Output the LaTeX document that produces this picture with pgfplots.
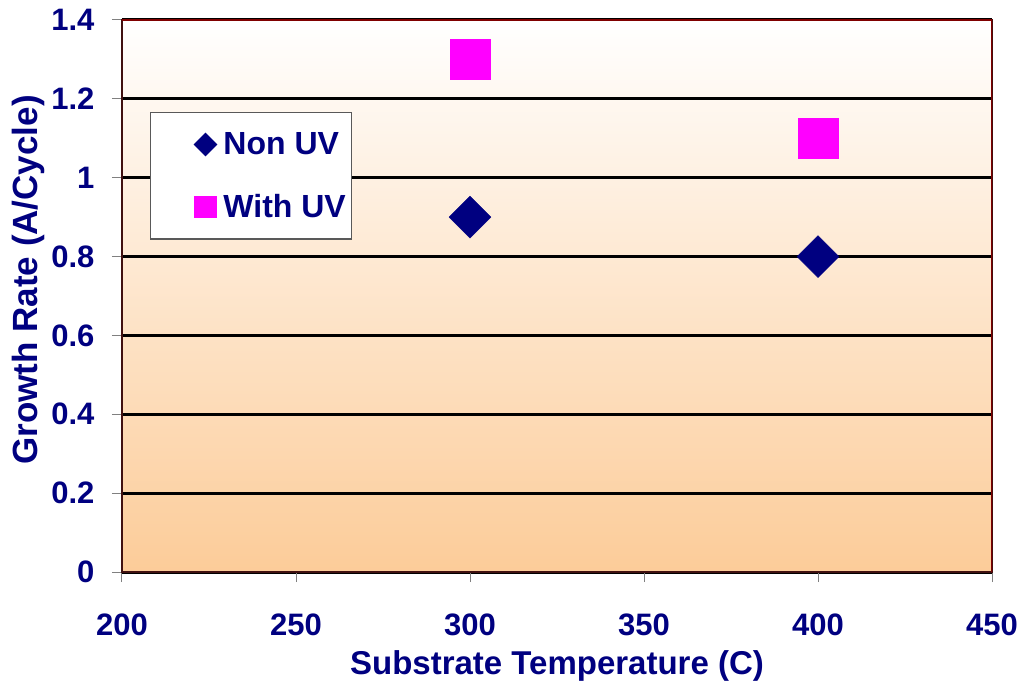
\documentclass[border=0pt]{standalone}
\usepackage{pgfplots}
\pgfplotsset{compat=1.18}
\usepackage{fontspec}
\setmainfont{Liberation Sans}
\definecolor{navy}{RGB}{0,0,128}
\definecolor{mag}{RGB}{255,0,255}
\definecolor{peach}{RGB}{252,204,153}
\definecolor{bordred}{RGB}{128,0,0}
\definecolor{bordbrown}{RGB}{64,16,16}
\pgfplotsset{
  legA/.style={legend image code/.code={\path[draw=none] (0pt,0pt) -- (67pt,0pt); \draw[##1, mark size=7.8pt] plot coordinates {(51pt,0pt)};}},
  legB/.style={legend image code/.code={\path[draw=none] (0pt,0pt) -- (67pt,0pt); \draw[##1, mark size=10.5pt] plot coordinates {(51pt,0pt)};}},
}
\begin{document}
\begin{tikzpicture}
\begin{axis}[
  scale only axis,
  width=870pt, height=552pt,
  xmin=200, xmax=450, ymin=0, ymax=1.4,
  xtick={200,250,...,450},
  ytick={0,0.2,...,1.4},
  yticklabels={0,0.2,0.4,0.6,0.8,1,1.2,1.4},
  /pgf/number format/assume math mode=true,
  tick label style={font=\fontsize{31}{36}\selectfont\bfseries, text=navy},
  xticklabel style={yshift=-28pt},
  yticklabel style={xshift=-14pt},
  tick align=outside,
  major tick length=10pt,
  tick style={gray, line width=1pt},
  xtick pos=bottom, ytick pos=left,
  axis line style={bordbrown, line width=1.5pt},
  ymajorgrids,
  major grid style={black, line width=3pt},
  axis background/.style={top color=white, bottom color=peach},
  xlabel={Substrate Temperature (C)},
  ylabel={Growth Rate (A/Cycle)},
  xlabel style={font=\fontsize{33}{38}\selectfont\bfseries, text=navy, yshift=-8pt},
  ylabel style={font=\fontsize{35}{40}\selectfont\bfseries, text=navy, at={(ticklabel cs:0.529)}},
  legend style={at={(rel axis cs:0.032,0.833)}, anchor=north west,
    draw=gray!70!black, line width=1.2pt, fill=white,
    font=\fontsize{32}{36}\selectfont\bfseries, text=navy,
    inner xsep=4pt, inner ysep=18pt, row sep=34pt,
    /tikz/every even column/.append style={column sep=0pt}},
  legend cell align=left,
]
\addplot[only marks, mark=square*, mark size=14.8pt, mark options={rotate=45, fill=navy, draw=navy}, legA]
  coordinates {(300,0.9) (400,0.8)};
\addlegendentry{Non UV}
\addplot[only marks, mark=square*, mark size=20pt, mark options={fill=mag, draw=mag}, legB]
  coordinates {(300,1.3) (400,1.1)};
\addlegendentry{With UV}
\draw[bordred, line width=1.5pt] (rel axis cs:0,1) -- (rel axis cs:1,1) -- (rel axis cs:1,0);
\end{axis}
\pgfresetboundingbox
\path (-122pt,-119pt) rectangle (905pt,572pt);
\end{tikzpicture}
\end{document}
